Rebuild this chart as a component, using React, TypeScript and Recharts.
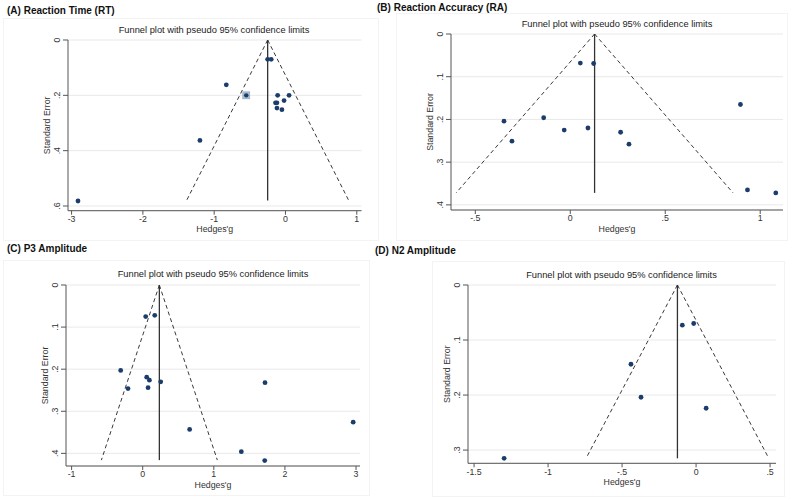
import { ScatterChart, Scatter, XAxis, YAxis, CartesianGrid, ReferenceLine } from "recharts"

// (A) Reaction Time: Hedges' g and standard error per study
const rtG = [-0.25, -0.2, -0.83, -0.11, 0.05, -0.02, -0.14, -0.12, -0.12, -0.05, -1.2, -2.91]
const rtSE = [0.07, 0.07, 0.162, 0.2, 0.2, 0.219, 0.227, 0.227, 0.246, 0.252, 0.363, 0.582]
// the one study drawn with a box round it
const rtMarkG = [-0.55]
const rtMarkSE = [0.2]
const rtPooled = -0.25
const rtSeMax = 0.58

// (B) Reaction Accuracy
const raG = [0.053, 0.123, 0.896, -0.349, -0.14, -0.307, -0.032, 0.093, 0.265, 0.309, 0.933, 1.082]
const raSE = [0.068, 0.069, 0.165, 0.204, 0.196, 0.251, 0.225, 0.22, 0.23, 0.258, 0.365, 0.372]
const raPooled = 0.128
const raSeMax = 0.372

// (C) P3 Amplitude
const p3G = [0.042, 0.169, -0.31, 0.056, 0.094, 0.253, -0.207, 0.075, 1.72, 0.66, 2.96, 1.387, 1.716]
const p3SE = [0.075, 0.072, 0.203, 0.219, 0.226, 0.23, 0.246, 0.244, 0.232, 0.343, 0.326, 0.396, 0.417]
const p3Pooled = 0.234
const p3SeMax = 0.416

// (D) N2 Amplitude
const n2G = [-0.093, -0.016, -0.44, -0.372, 0.068, -1.297]
const n2SE = [0.073, 0.07, 0.144, 0.204, 0.224, 0.315]
const n2Pooled = -0.126
const n2SeMax = 0.315

// axis ticks
const rtXTicks = [-3, -2, -1, 0, 1]
const rtYTicks = [0, 0.2, 0.4, 0.6]
const raXTicks = [-0.5, 0, 0.5, 1]
const raYTicks = [0, 0.1, 0.2, 0.3, 0.4]
const p3XTicks = [-1, 0, 1, 2, 3]
const p3YTicks = [0, 0.1, 0.2, 0.3, 0.4]
const n2XTicks = [-1.5, -1, -0.5, 0, 0.5]
const n2YTicks = [0, 0.1, 0.2, 0.3]

const TITLE = "Funnel plot with pseudo 95% confidence limits"
const FONT = '"Liberation Sans", Arial, Helvetica, sans-serif'
const DOT = "#1c3d6b"
const INK = "#333"
const Z = 1.96

const toPoints = (g: number[], se: number[]) => g.map((v, i) => ({ g: v, se: se[i] }))

// stata style: ".5" instead of "0.5"
const fmt = (v: number) => String(v).replace(/^(-?)0\./, "$1.")

const YTick = (props: any) => {
  const { x, y, payload } = props
  const bx = x - 1.3
  return (
    <text x={bx} y={y} transform={`rotate(-90 ${bx} ${y})`} textAnchor="middle" fontSize={8.8} fill={INK} fontFamily={FONT}>
      {fmt(payload.value)}
    </text>
  )
}

const Dot = (p: any) => <circle cx={p.cx} cy={p.cy} r={2.4} fill={DOT} />

const BoxedDot = (p: any) => (
  <g>
    <rect x={p.cx - 3.5} y={p.cy - 3.5} width={7} height={7} fill="#a9bdd3" stroke="#8fa6c0" strokeWidth={0.6} />
    <circle cx={p.cx} cy={p.cy} r={2.2} fill={DOT} />
  </g>
)

type PanelProps = {
  x0: number
  x1: number
  y0: number
  y1: number
  xDomain: [number, number]
  yMax: number
  xTicks: number[]
  yTicks: number[]
  g: number[]
  se: number[]
  pooled: number
  seMax: number
  markG?: number[]
  markSE?: number[]
}

const PAD_L = 45
const PAD_T = 5
const PAD_R = 10
const PAD_B = 30
const Y_W = 30
const X_H = 26

const Panel = ({ x0, x1, y0, y1, xDomain, yMax, xTicks, yTicks, g, se, pooled, seMax, markG, markSE }: PanelProps) => {
  const w = x1 - x0 + PAD_L + PAD_R
  const h = y1 - y0 + PAD_T + PAD_B
  const plotW = x1 - x0
  const lx = PAD_L // local plot left
  const ly = PAD_T // local plot top
  const lb = PAD_T + (y1 - y0) // local plot bottom
  const lo = pooled - Z * seMax
  const hi = pooled + Z * seMax
  return (
    <div style={{ position: "absolute", left: x0 - PAD_L, top: y0 - PAD_T }}>
      <ScatterChart width={w} height={h} margin={{ top: PAD_T, left: PAD_L - Y_W, right: PAD_R, bottom: PAD_B - X_H }}>
        <CartesianGrid vertical={false} stroke="#e9e9e9" strokeWidth={1} />
        <XAxis
          type="number"
          dataKey="g"
          domain={xDomain}
          ticks={xTicks}
          interval={0}
          allowDataOverflow
          height={X_H}
          tickFormatter={fmt}
          tickSize={4}
          tickMargin={1}
          stroke="#555"
          tick={{ fontSize: 8.8, fill: INK, fontFamily: FONT }}
          label={{
            content: () => (
              <text x={lx + plotW / 2} y={lb + 21.5} textAnchor="middle" fontSize={8.8} fill={INK} fontFamily={FONT}>
                Hedges'g
              </text>
            ),
          }}
        />
        <YAxis
          type="number"
          dataKey="se"
          reversed
          domain={[0, yMax]}
          ticks={yTicks}
          interval={0}
          allowDataOverflow
          width={Y_W}
          tickSize={5}
          tickMargin={2}
          stroke="#555"
          tick={<YTick />}
          label={{
            content: () => {
              const bx = lx - 17.8
              const cy = (ly + lb) / 2
              return (
                <text x={bx} y={cy} transform={`rotate(-90 ${bx} ${cy})`} textAnchor="middle" fontSize={8.8} fill={INK} fontFamily={FONT}>
                  Standard Error
                </text>
              )
            },
          }}
        />
        <ReferenceLine
          segment={[{ x: pooled, y: 0 }, { x: lo, y: seMax }]}
          stroke="#222"
          strokeWidth={0.9}
          strokeDasharray="4 3"
          ifOverflow="visible"
        />
        <ReferenceLine
          segment={[{ x: pooled, y: 0 }, { x: hi, y: seMax }]}
          stroke="#222"
          strokeWidth={0.9}
          strokeDasharray="4 3"
          ifOverflow="visible"
        />
        <ReferenceLine segment={[{ x: pooled, y: 0 }, { x: pooled, y: seMax }]} stroke="#333" strokeWidth={1.3} ifOverflow="visible" />
        <Scatter data={toPoints(g, se)} shape={<Dot />} isAnimationActive={false} />
        {markG && markSE && <Scatter data={toPoints(markG, markSE)} shape={<BoxedDot />} isAnimationActive={false} />}
      </ScatterChart>
    </div>
  )
}

const Title = ({ cx, top }: { cx: number; top: number }) => (
  <div
    style={{
      position: "absolute",
      left: cx - 150,
      top: top - 6,
      width: 300,
      lineHeight: "12px",
      textAlign: "center",
      fontSize: 9.3,
      color: "#222",
      fontFamily: FONT,
      whiteSpace: "nowrap",
    }}
  >
    {TITLE}
  </div>
)

const Heading = ({ x, cy, text }: { x: number; cy: number; text: string }) => (
  <div style={{ position: "absolute", left: x, top: cy - 7, lineHeight: "14px", fontSize: 10, fontWeight: 700, color: "#111", fontFamily: FONT, whiteSpace: "nowrap" }}>
    {text}
  </div>
)

const Frame = ({ x, y, w, h }: { x: number; y: number; w: number; h: number }) => (
  <div style={{ position: "absolute", left: x, top: y, width: w, height: h, border: "1px solid #f3f3f3", boxSizing: "border-box" }} />
)

export default function App() {
  return (
    <div style={{ position: "absolute", left: 0, top: 0, width: 794, height: 500, background: "#fff", overflow: "hidden", fontFamily: FONT }}>
      <Frame x={3} y={18} w={376} h={223} />
      <Frame x={396} y={13} w={392} h={228} />
      <Frame x={3} y={260} w={367} h={236} />
      <Frame x={432} y={261} w={353} h={236} />

      <Panel x0={67.5} x1={361} y0={40} y1={210.7} xDomain={[-3.05, 1.066]} yMax={0.617} xTicks={rtXTicks} yTicks={rtYTicks}
        g={rtG} se={rtSE} pooled={rtPooled} seMax={rtSeMax} markG={rtMarkG} markSE={rtMarkSE} />
      <Panel x0={451.3} x1={783.3} y0={34} y1={210} xDomain={[-0.628, 1.12]} yMax={0.412} xTicks={raXTicks} yTicks={raYTicks}
        g={raG} se={raSE} pooled={raPooled} seMax={raSeMax} />
      <Panel x0={66} x1={360} y0={285} y1={466} xDomain={[-1.079, 3.056]} yMax={0.43} xTicks={p3XTicks} yTicks={p3YTicks}
        g={p3G} se={p3SE} pooled={p3Pooled} seMax={p3SeMax} />
      <Panel x0={467.7} x1={775.7} y0={285} y1={463.3} xDomain={[-1.541, 0.54]} yMax={0.324} xTicks={n2XTicks} yTicks={n2YTicks}
        g={n2G} se={n2SE} pooled={n2Pooled} seMax={n2SeMax} />

      <Title cx={214} top={29.5} />
      <Title cx={617} top={23.5} />
      <Title cx={213} top={274} />
      <Title cx={621.5} top={275} />

      <Heading x={7} cy={11} text="(A) Reaction Time (RT)" />
      <Heading x={377} cy={7.5} text="(B) Reaction Accuracy (RA)" />
      <Heading x={7} cy={249} text="(C) P3 Amplitude" />
      <Heading x={375} cy={251} text="(D) N2 Amplitude" />
    </div>
  )
}
